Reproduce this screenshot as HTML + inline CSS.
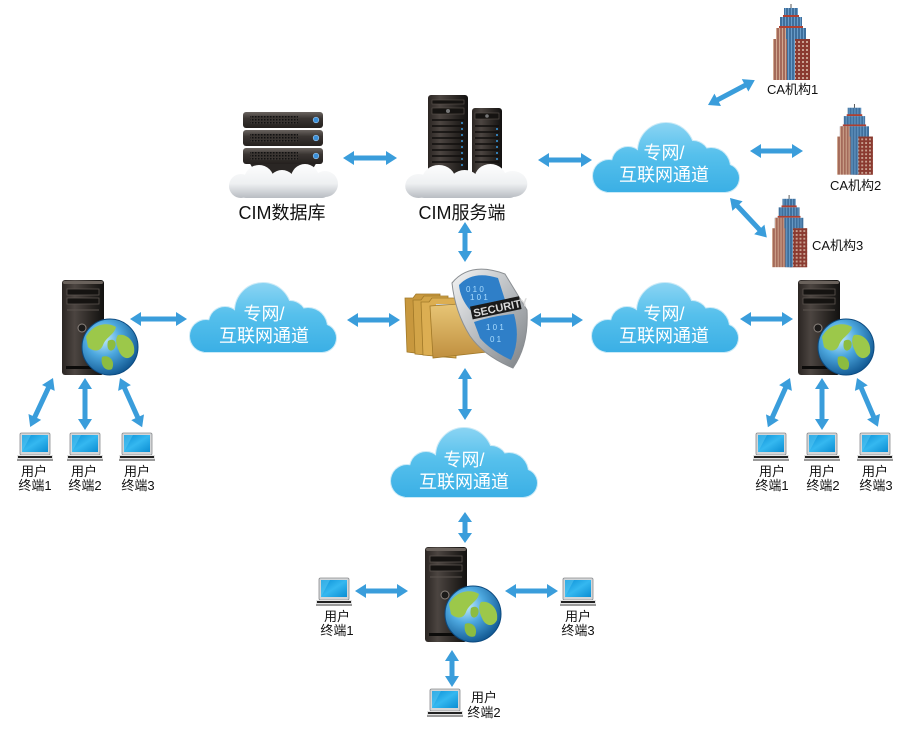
<!DOCTYPE html>
<html><head><meta charset="utf-8">
<style>
html,body{margin:0;padding:0;background:#fff;}
svg{display:block;}
text{font-family:"Liberation Sans","Noto Sans CJK SC",sans-serif;}
</style></head>
<body>
<svg width="900" height="730" viewBox="0 0 900 730" xmlns="http://www.w3.org/2000/svg">
<defs>
  <linearGradient id="cg" gradientUnits="userSpaceOnUse" x1="0" y1="0" x2="0" y2="70">
    <stop offset="0" stop-color="#8ad4f3"/>
    <stop offset="0.45" stop-color="#56c0ec"/>
    <stop offset="1" stop-color="#3aafe5"/>
  </linearGradient>
  <linearGradient id="wg" gradientUnits="userSpaceOnUse" x1="0" y1="0" x2="0" y2="36">
    <stop offset="0" stop-color="#ffffff"/>
    <stop offset="0.6" stop-color="#eef0f2"/>
    <stop offset="1" stop-color="#b8bcc2"/>
  </linearGradient>
  <linearGradient id="towerG" x1="0" y1="0" x2="1" y2="0">
    <stop offset="0" stop-color="#2a2522"/>
    <stop offset="0.3" stop-color="#4c4541"/>
    <stop offset="0.7" stop-color="#2a2623"/>
    <stop offset="1" stop-color="#121110"/>
  </linearGradient>
  <linearGradient id="unitG" x1="0" y1="0" x2="0" y2="1">
    <stop offset="0" stop-color="#6a6460"/>
    <stop offset="0.4" stop-color="#3a3532"/>
    <stop offset="1" stop-color="#24201e"/>
  </linearGradient>
  <radialGradient id="globeG" cx="0.38" cy="0.35" r="0.7">
    <stop offset="0" stop-color="#c6ecfb"/>
    <stop offset="0.45" stop-color="#4da8df"/>
    <stop offset="1" stop-color="#0f558f"/>
  </radialGradient>
  <linearGradient id="scrG" x1="0" y1="0" x2="1" y2="1">
    <stop offset="0" stop-color="#0a8fd6"/>
    <stop offset="0.5" stop-color="#35b8f0"/>
    <stop offset="1" stop-color="#0b8ed3"/>
  </linearGradient>
  <linearGradient id="silver" x1="0" y1="0" x2="1" y2="1">
    <stop offset="0" stop-color="#f4f4f4"/>
    <stop offset="0.5" stop-color="#b8bcc0"/>
    <stop offset="1" stop-color="#7c8084"/>
  </linearGradient>
  <linearGradient id="fold" x1="0" y1="0" x2="0" y2="1">
    <stop offset="0" stop-color="#e9c778"/>
    <stop offset="1" stop-color="#c09040"/>
  </linearGradient>
  <pattern id="dots" width="3" height="3" patternUnits="userSpaceOnUse">
    <rect width="3" height="3" fill="#3a3532"/>
    <rect width="1.5" height="1.5" fill="#111"/>
  </pattern>
  <pattern id="win" width="4" height="4" patternUnits="userSpaceOnUse">
    <rect width="4" height="4" fill="#8a3a30"/>
    <rect x="1" y="1" width="2" height="2" fill="#c8a090"/>
  </pattern>
  <pattern id="brick" width="3" height="4" patternUnits="userSpaceOnUse">
    <rect width="3" height="4" fill="#a46a5a"/>
    <rect x="0" y="0" width="1" height="4" fill="#d0a890"/>
  </pattern>
  <pattern id="glass" width="3" height="3" patternUnits="userSpaceOnUse">
    <rect width="3" height="3" fill="#3f6f9c"/>
    <rect width="1" height="3" fill="#6a9cc8"/>
  </pattern>

  <!-- blue cloud -->
  <g id="bcloud">
    <g fill="#cbeaf7" stroke="#cbeaf7" stroke-width="2">
      <circle cx="16" cy="53" r="16"/><circle cx="35" cy="40" r="16"/><circle cx="73" cy="28" r="28"/>
      <circle cx="100" cy="34" r="16"/><circle cx="118" cy="44" r="19"/><circle cx="132" cy="55" r="14"/>
      <rect x="14" y="40" width="118" height="29"/>
    </g>
    <g fill="url(#cg)">
      <circle cx="16" cy="53" r="16"/><circle cx="35" cy="40" r="16"/><circle cx="73" cy="28" r="28"/>
      <circle cx="100" cy="34" r="16"/><circle cx="118" cy="44" r="19"/><circle cx="132" cy="55" r="14"/>
      <rect x="14" y="40" width="118" height="29"/>
    </g>
  </g>

  <!-- white cloud -->
  <g id="wcloud">
    <g fill="url(#wg)">
      <circle cx="14" cy="24" r="12"/><circle cx="32" cy="18" r="15"/><circle cx="55" cy="22" r="14"/>
      <circle cx="78" cy="16" r="14"/><circle cx="98" cy="22" r="13"/><rect x="12" y="22" width="90" height="14" rx="7"/>
    </g>
  </g>

  <!-- tower + globe -->
  <g id="tower">
    <rect x="0" y="0" width="42" height="95" rx="3" fill="url(#towerG)"/>
    <rect x="1" y="1" width="40" height="3" rx="1.5" fill="#6a625c"/>
    <rect x="5" y="9" width="32" height="6" fill="#151311" stroke="#5a534e" stroke-width="0.8"/>
    <rect x="5" y="18" width="32" height="6" fill="#151311" stroke="#5a534e" stroke-width="0.8"/>
    <line x1="5" y1="30" x2="37" y2="30" stroke="#5a534e" stroke-width="1"/>
    <circle cx="20" cy="48" r="4" fill="#1d1b1a" stroke="#8a827c" stroke-width="1"/>
    <rect x="4" y="86" width="34" height="3" fill="#0c0b0a"/>
    <g transform="translate(48 67)">
      <circle r="28" fill="url(#globeG)"/>
      <path d="M-24,-10 C-18,-22 -4,-26 6,-20 C4,-12 -4,-10 -7,-2 C-10,6 -18,4 -22,0 Z" fill="#9cc84a"/>
      <path d="M-2,-6 C4,-10 8,-4 4,2 C0,6 -4,2 -2,-6 Z" fill="#8cbc40"/>
      <path d="M8,-12 C16,-14 26,-6 24,6 C20,14 12,12 9,4 C6,-2 5,-8 8,-12 Z" fill="#9cc84a"/>
      <path d="M-8,10 C-2,7 6,13 2,22 C-4,25 -10,19 -8,10 Z" fill="#8cbc40"/>
      <circle r="28" fill="none" stroke="#0c4a80" stroke-width="1"/>
    </g>
  </g>

  <!-- laptop (36x29) -->
  <g id="laptop">
    <rect x="3" y="0" width="30" height="22" rx="1.5" fill="#d4d6d8" stroke="#8a8c8e" stroke-width="0.8"/>
    <rect x="5" y="2" width="26" height="17" fill="url(#scrG)"/>
    <polygon points="5,19 5,2 14,2" fill="#5ccaf4" opacity="0.5"/>
    <rect x="0" y="22" width="36" height="4" fill="#e4e4e4"/>
    <rect x="1" y="23" width="34" height="2" fill="#222"/>
    <rect x="0" y="26" width="36" height="2" fill="#9a9a9a"/>
  </g>

  <!-- building -->
  <g id="bldg">
    <line x1="18" y1="0" x2="18" y2="6" stroke="#555" stroke-width="1"/>
    <rect x="11" y="4" width="14" height="8" fill="url(#glass)"/>
    <rect x="10" y="11" width="16" height="2" fill="#b04030"/>
    <rect x="7" y="13" width="22" height="10" fill="url(#glass)"/>
    <rect x="6" y="22" width="24" height="2" fill="#b04030"/>
    <rect x="3" y="24" width="30" height="12" fill="url(#glass)"/>
    <rect x="3" y="24" width="10" height="12" fill="url(#brick)"/>
    <rect x="0" y="35" width="37" height="41" fill="url(#brick)"/>
    <rect x="18" y="35" width="19" height="41" fill="url(#win)"/>
    <rect x="14" y="24" width="8" height="52" fill="url(#glass)"/>
  </g>

  <polygon id="a54" points="0,0 11,-7 11,-2.5 43,-2.5 43,-7 54,0 43,7 43,2.5 11,2.5 11,7"/>
  <polygon id="a53" points="0,0 11,-7 11,-2.5 42,-2.5 42,-7 53,0 42,7 42,2.5 11,2.5 11,7"/>
  <polygon id="a57" points="0,0 11,-7 11,-2.5 46,-2.5 46,-7 57,0 46,7 46,2.5 11,2.5 11,7"/>
  <polygon id="a52" points="0,0 11,-7 11,-2.5 41,-2.5 41,-7 52,0 41,7 41,2.5 11,2.5 11,7"/>
  <polygon id="a40" points="0,0 11,-7 11,-2.5 29,-2.5 29,-7 40,0 29,7 29,2.5 11,2.5 11,7"/>
  <polygon id="a37" points="0,0 11,-7 11,-2.5 26,-2.5 26,-7 37,0 26,7 26,2.5 11,2.5 11,7"/>
  <polygon id="a31" points="0,0 10,-7 10,-2.5 21,-2.5 21,-7 31,0 21,7 21,2.5 10,2.5 10,7"/>
</defs>

<rect width="900" height="730" fill="#fff"/>

<!-- ARROWS -->
<g fill="#3a9ddb">
  <use href="#a54" transform="translate(343 158)"/>
  <use href="#a54" transform="translate(538 160)"/>
  <use href="#a53" transform="translate(708 105) rotate(-28)"/>
  <use href="#a53" transform="translate(750 151)"/>
  <use href="#a54" transform="translate(730 198) rotate(47)"/>
  <use href="#a40" transform="translate(465 222) rotate(90)"/>
  <use href="#a53" transform="translate(347 320)"/>
  <use href="#a53" transform="translate(530 320)"/>
  <use href="#a57" transform="translate(130 319)"/>
  <use href="#a53" transform="translate(740 319)"/>
  <use href="#a52" transform="translate(465 368) rotate(90)"/>
  <use href="#a31" transform="translate(465 512) rotate(90)"/>
  <use href="#a53" transform="translate(355 591)"/>
  <use href="#a53" transform="translate(505 591)"/>
  <use href="#a37" transform="translate(452 650) rotate(90)"/>
  <use href="#a54" transform="translate(53 378) rotate(115)"/>
  <use href="#a52" transform="translate(85 378) rotate(90)"/>
  <use href="#a54" transform="translate(120 378) rotate(65.8)"/>
  <use href="#a54" transform="translate(790 378) rotate(114.2)"/>
  <use href="#a52" transform="translate(822 378) rotate(90)"/>
  <use href="#a53" transform="translate(857 378) rotate(66.8)"/>
</g>

<!-- CIM DATABASE -->
<g transform="translate(243 110)">
  <polygon points="6,52 74,52 62,72 18,72" fill="#2a2624"/>
  <g>
    <rect x="0" y="2" width="80" height="16" rx="3" fill="url(#unitG)"/>
    <rect x="7" y="6" width="48" height="8" fill="url(#dots)"/>
    <circle cx="73" cy="10" r="2.8" fill="#3a8fd8" stroke="#9cc8ee" stroke-width="0.6"/>
  </g>
  <g transform="translate(0 18)">
    <rect x="0" y="2" width="80" height="16" rx="3" fill="url(#unitG)"/>
    <rect x="7" y="6" width="48" height="8" fill="url(#dots)"/>
    <circle cx="73" cy="10" r="2.8" fill="#3a8fd8" stroke="#9cc8ee" stroke-width="0.6"/>
  </g>
  <g transform="translate(0 36)">
    <rect x="0" y="2" width="80" height="16" rx="3" fill="url(#unitG)"/>
    <rect x="7" y="6" width="48" height="8" fill="url(#dots)"/>
    <circle cx="73" cy="10" r="2.8" fill="#3a8fd8" stroke="#9cc8ee" stroke-width="0.6"/>
  </g>
</g>
<use href="#wcloud" transform="translate(227 162)"/>
<text x="282" y="219" font-size="18" text-anchor="middle" fill="#111">CIM数据库</text>

<!-- CIM SERVER -->
<g>
  <rect x="428" y="95" width="40" height="85" rx="3" fill="url(#towerG)"/>
  <rect x="432" y="100" width="32" height="4" fill="#151311" stroke="#5a534e" stroke-width="0.6"/>
  <rect x="432" y="108" width="32" height="6" fill="#151311" stroke="#5a534e" stroke-width="0.6"/>
  <circle cx="448" cy="111" r="2" fill="#777"/>
  <g stroke="#100e0d" stroke-width="1.5">
    <line x1="432" y1="120" x2="464" y2="120"/><line x1="432" y1="126" x2="464" y2="126"/>
    <line x1="432" y1="132" x2="464" y2="132"/><line x1="432" y1="138" x2="464" y2="138"/>
    <line x1="432" y1="144" x2="464" y2="144"/><line x1="432" y1="150" x2="464" y2="150"/>
    <line x1="432" y1="156" x2="464" y2="156"/><line x1="432" y1="162" x2="464" y2="162"/>
  </g>
  <g fill="#3a9be0">
    <circle cx="462" cy="123" r="1"/><circle cx="462" cy="129" r="1"/><circle cx="462" cy="135" r="1"/>
    <circle cx="462" cy="141" r="1"/><circle cx="462" cy="147" r="1"/><circle cx="462" cy="153" r="1"/>
    <circle cx="462" cy="159" r="1"/><circle cx="462" cy="165" r="1"/>
  </g>
  <rect x="472" y="108" width="30" height="70" rx="3" fill="url(#towerG)"/>
  <rect x="475" y="113" width="24" height="6" fill="#151311" stroke="#5a534e" stroke-width="0.6"/>
  <circle cx="487" cy="116" r="1.8" fill="#777"/>
  <g stroke="#100e0d" stroke-width="1.5">
    <line x1="475" y1="126" x2="499" y2="126"/><line x1="475" y1="132" x2="499" y2="132"/>
    <line x1="475" y1="138" x2="499" y2="138"/><line x1="475" y1="144" x2="499" y2="144"/>
    <line x1="475" y1="150" x2="499" y2="150"/><line x1="475" y1="156" x2="499" y2="156"/>
    <line x1="475" y1="162" x2="499" y2="162"/>
  </g>
  <g fill="#3a9be0">
    <circle cx="497" cy="129" r="1"/><circle cx="497" cy="135" r="1"/><circle cx="497" cy="141" r="1"/>
    <circle cx="497" cy="147" r="1"/><circle cx="497" cy="153" r="1"/><circle cx="497" cy="159" r="1"/>
  </g>
</g>
<use href="#wcloud" transform="translate(403 162) scale(1.12 1)"/>
<text x="462" y="219" font-size="18" text-anchor="middle" fill="#111">CIM服务端</text>

<!-- BLUE CLOUDS -->
<use href="#bcloud" transform="translate(593 123)"/>
<use href="#bcloud" transform="translate(190 283)"/>
<use href="#bcloud" transform="translate(592 283)"/>
<use href="#bcloud" transform="translate(391 428)"/>
<g fill="#fff" font-size="18" text-anchor="middle">
  <text x="664" y="159">专网/</text><text x="664" y="181">互联网通道</text>
  <text x="264" y="320">专网/</text><text x="264" y="342">互联网通道</text>
  <text x="664" y="320">专网/</text><text x="664" y="342">互联网通道</text>
  <text x="464" y="466">专网/</text><text x="464" y="488">互联网通道</text>
</g>

<!-- CA BUILDINGS -->
<use href="#bldg" transform="translate(773 4)"/>
<use href="#bldg" transform="translate(837 104) scale(0.97 0.93)"/>
<use href="#bldg" transform="translate(772 195) scale(0.95 0.95)"/>
<g font-size="13" fill="#111">
  <text x="767" y="94">CA机构1</text>
  <text x="830" y="190">CA机构2</text>
  <text x="812" y="250">CA机构3</text>
</g>

<!-- SECURITY ICON -->
<g>
  <path d="M405,298 L413,298 L416,294 L440,294 L440,356 L407,352 Z" fill="#c8983e" stroke="#a07828" stroke-width="0.8"/>
  <path d="M413,300 L421,300 L424,296 L448,296 L448,357 L415,354 Z" fill="#d2a448" stroke="#a07828" stroke-width="0.8"/>
  <path d="M421,302 L429,302 L432,298 L456,298 L456,358 L423,355 Z" fill="#dcae52" stroke="#a07828" stroke-width="0.8"/>
  <rect x="436" y="304" width="46" height="10" fill="#c8d4e0"/>
  <path d="M430,306 L486,302 L487,352 L433,358 Z" fill="url(#fold)" stroke="#a07828" stroke-width="0.8"/>
  <path d="M452,283 Q470,261 505,274 L527,310 Q529,345 513,368 Q484,356 470,336 Q455,312 452,283 Z" fill="url(#silver)" stroke="#8a8e92" stroke-width="1"/>
  <path d="M459,285 Q473,270 498,278 L505,300 Q484,302 470,310 Q460,298 459,285 Z" fill="#2f7fc8"/>
  <path d="M474,322 Q492,316 514,314 Q521,340 511,360 Q490,350 480,338 Z" fill="#2f7fc8"/>
  <g fill="#a8dcff" font-size="8" font-family="Liberation Mono, monospace">
    <text x="466" y="292">0 1 0</text><text x="470" y="300">1 0 1</text>
    <text x="486" y="330">1 0 1</text><text x="490" y="342">0 1</text>
  </g>
  <g transform="translate(474 316) rotate(-12)">
    <rect x="-2" y="-10" width="50" height="13" fill="#1a1a1a"/>
    <text x="0" y="1" font-size="11" font-weight="bold" fill="#d8d8d8">SECURITY</text>
  </g>
</g>

<!-- TOWERS -->
<use href="#tower" transform="translate(62 280)"/>
<use href="#tower" transform="translate(798 280)"/>
<use href="#tower" transform="translate(425 547)"/>

<!-- LAPTOPS -->
<use href="#laptop" transform="translate(17 433)"/>
<use href="#laptop" transform="translate(67 433)"/>
<use href="#laptop" transform="translate(119 433)"/>
<use href="#laptop" transform="translate(753 433)"/>
<use href="#laptop" transform="translate(804 433)"/>
<use href="#laptop" transform="translate(857 433)"/>
<use href="#laptop" transform="translate(316 578)"/>
<use href="#laptop" transform="translate(560 578)"/>
<use href="#laptop" transform="translate(427 689)"/>

<g font-size="13" fill="#111" text-anchor="middle">
  <text x="34" y="476">用户</text><text x="35" y="490">终端1</text>
  <text x="84" y="476">用户</text><text x="85" y="490">终端2</text>
  <text x="137" y="476">用户</text><text x="138" y="490">终端3</text>
  <text x="772" y="476">用户</text><text x="772" y="490">终端1</text>
  <text x="822" y="476">用户</text><text x="823" y="490">终端2</text>
  <text x="875" y="476">用户</text><text x="876" y="490">终端3</text>
  <text x="337" y="621">用户</text><text x="337" y="635">终端1</text>
  <text x="578" y="621">用户</text><text x="578" y="635">终端3</text>
  <text x="484" y="702">用户</text><text x="484" y="717">终端2</text>
</g>
</svg>
</body></html>
